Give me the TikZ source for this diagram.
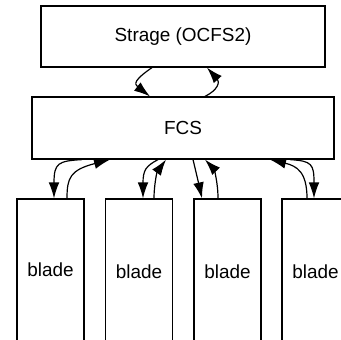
\documentclass[tikz,border=0pt]{standalone}
\usepackage{fontspec}
\setmainfont{Liberation Sans}
\usetikzlibrary{arrows.meta,calc}
\begin{document}
\begin{tikzpicture}[x=0.75pt,y=-0.75pt,
  box/.style={draw,line width=0.9pt,rectangle,inner sep=0pt,font=\fontsize{14.2}{17}\selectfont},
  bladebox/.style={box,minimum width={67*0.75pt},minimum height={146*0.75pt}},
  arr/.style={line width=0.9pt,arrows={-Latex[length=12pt,width=8pt]}}]
\clip (0,0) rectangle (341,339);
\useasboundingbox (0,0) rectangle (341,339);
\node[box,minimum width={284*0.75pt},minimum height={61*0.75pt}] (s) at (183,36.5) {Strage (OCFS2)};
\node[box,minimum width={302*0.75pt},minimum height={62*0.75pt}] (f) at (183,128) {FCS};
\node[bladebox] (b1) at (50.5,272) {\raisebox{3pt}{blade}};
\node[bladebox] (b2) at (139,272) {blade};
\node[bladebox] (b3) at (227.5,272) {blade};
\node[bladebox] (b4) at (315.5,272) {blade};
% storage <-> FCS
\draw[arr] ($(s.south)+(-31,0)$) .. controls (134,80) and (134,84) .. ($(f.north)+(-33,0)$);
\draw[arr] ($(f.north)+(22,0)$) .. controls (218,90) and (220,82) .. ($(s.south)+(24,0)$);
% blade 1
\draw[arr] ($(f.south)+(-101,0)$) .. controls (58,161) and (54,163) .. ($(b1.north)+(3.5,0)$);
\draw[arr] ($(b1.north)+(16.5,0)$) .. controls (67,178) and (70,170) .. ($(f.south)+(-73,0)$);
% blade 2
\draw[arr] ($(f.south)+(-25,0)$) .. controls (146,166) and (143,170) .. ($(b2.north)+(4,0)$);
\draw[arr] ($(b2.north)+(15,0)$) .. controls (154,185) and (157,172) .. ($(f.south)+(-17,0)$);
% blade 3
\draw[arr] ($(f.south)+(10,0)$) .. controls (196,172) and (199,185) .. ($(b3.north)+(-25.5,0)$);
\draw[arr] ($(b3.north)+(-9.5,0)$) .. controls (218,180) and (213,168) .. ($(f.south)+(22,0)$);
% blade 4
\draw[arr] ($(b4.north)+(-8.5,0)$) .. controls (307,172) and (297,166) .. ($(f.south)+(87,0)$);
\draw[arr] ($(f.south)+(107,0)$) .. controls (312,161) and (314,164) .. ($(b4.north)+(-1.5,0)$);
\end{tikzpicture}
\end{document}
